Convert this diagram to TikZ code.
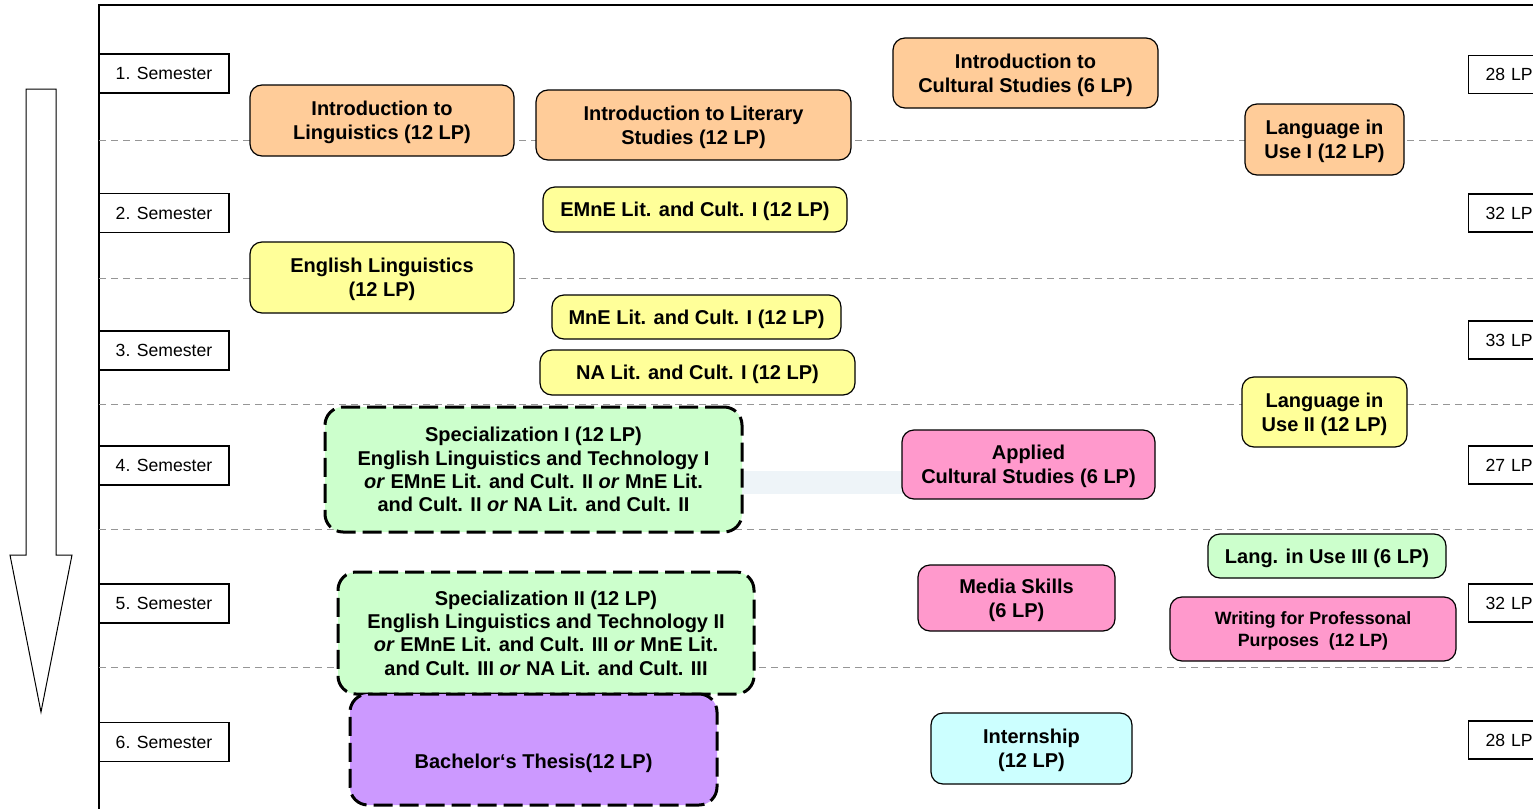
\documentclass[tikz,border=0pt]{standalone}
\usepackage{fontspec}
\setmainfont{Liberation Sans}
\definecolor{dashgray}{RGB}{150,150,150}
\definecolor{orangefill}{RGB}{255,204,153}
\definecolor{yellowfill}{RGB}{255,255,153}
\definecolor{greenfill}{RGB}{204,255,204}
\definecolor{pinkfill}{RGB}{255,153,204}
\definecolor{purplefill}{RGB}{204,153,255}
\definecolor{cyanfill}{RGB}{204,255,255}
\definecolor{bandfill}{RGB}{238,244,248}
\tikzset{
  sem/.style={draw, line width=0.6pt, fill=white, minimum width=65pt, minimum height=19.5pt, inner sep=0pt, font=\fontsize{8.8}{10}\selectfont},
  lpbox/.style={draw, line width=0.6pt, fill=white, anchor=west, text width=29pt, inner xsep=8.5pt, inner ysep=0pt, minimum height=19pt, align=left, font=\fontsize{8.8}{10}\selectfont},
  mod/.style={draw, line width=0.6pt, rounded corners=6pt, inner sep=0pt, align=center, text depth=-1pt, font=\bfseries\fontsize{10}{12}\selectfont},
  specbox/.style={mod, line width=1.5pt, dash pattern=on 9.5pt off 3.5pt, rounded corners=9pt, text depth=-1.5pt, font=\bfseries\fontsize{10}{11.7}\selectfont},
  sz/.style 2 args={minimum width=#1, minimum height=#2},
  sepline/.style={dashgray, line width=0.5pt, dash pattern=on 3.5pt off 2.5pt},
  band/.style={bandfill, line width=11.5pt},
  bigarrow/.style={draw, line width=0.5pt, fill=white},
}
\begin{document}
\begin{tikzpicture}[x=0.5pt,y=-0.5pt]
\useasboundingbox (0,0) rectangle (1533,809);
% frame
\draw[line width=0.75pt] (99,809) -- (99,5) -- (1540,5);
% separator lines
\foreach \yy in {140,278,404,529,667}
  \draw[sepline] (99,\yy) -- (1533,\yy);
% big arrow
\draw[bigarrow] (26,89) -- (56,89) -- (56,555) -- (72,555) -- (41,712) -- (10,555) -- (26,555) -- cycle;
% semester boxes
\node[sem] (s1) at (164,73.5) {1. Semester};
\node[sem] (s2) at (164,213) {2. Semester};
\node[sem] (s3) at (164,350.5) {3. Semester};
\node[sem] (s4) at (164,465.5) {4. Semester};
\node[sem] (s5) at (164,603.5) {5. Semester};
\node[sem] (s6) at (164,742) {6. Semester};
% LP boxes
\node[lpbox] (l1) at (1468,74.5) {28 LP};
\node[lpbox] (l2) at (1468,213) {32 LP};
\node[lpbox] (l3) at (1468,340) {33 LP};
\node[lpbox] (l4) at (1468,465) {27 LP};
\node[lpbox] (l5) at (1468,603) {32 LP};
\node[lpbox] (l6) at (1468,740) {28 LP};
% modules
\coordinate (spec1pos) at (533.5,469.5);
\coordinate (appliedpos) at (1028.5,464.5);
\node[mod, sz={132pt}{35.5pt}, fill=orangefill] (intling) at (382,120.5) {Introduction to\\Linguistics (12 LP)};
\node[mod, sz={157.5pt}{35pt}, fill=orangefill] (intlit) at (693.5,125) {Introduction to Literary\\Studies (12 LP)};
\node[mod, sz={132.5pt}{35pt}, fill=orangefill] (intcult) at (1025.5,73) {Introduction to\\Cultural Studies (6 LP)};
\node[mod, sz={79.5pt}{35.5pt}, fill=orangefill] (liu1) at (1324.5,139.5) {Language in\\Use I (12 LP)};
\node[mod, sz={152pt}{22.5pt}, fill=yellowfill] (emne1) at (695,209.5) {EMnE Lit. and Cult. I (12 LP)};
\node[mod, sz={132pt}{35.5pt}, fill=yellowfill] (englin) at (382,277.5) {English Linguistics\\(12 LP)};
\node[mod, sz={144.5pt}{22pt}, fill=yellowfill] (mne1) at (696.5,317) {MnE Lit. and Cult. I (12 LP)};
\node[mod, sz={157.5pt}{22.5pt}, fill=yellowfill] (na1) at (697.5,372.5) {NA Lit. and Cult. I (12 LP)};
\node[mod, sz={82.5pt}{35pt}, fill=yellowfill] (liu2) at (1324.5,412) {Language in\\Use II (12 LP)};
% faint connector band
\draw[band] ([yshift=-6.5pt]spec1pos) -- ([yshift=-9pt]appliedpos);
\node[specbox, sz={208.5pt}{62.5pt}, fill=greenfill] (spec1) at (spec1pos) {Specialization I (12 LP)\\English Linguistics and Technology I\\\textit{or} EMnE Lit. and Cult. II \textit{or} MnE Lit.\\and Cult. II \textit{or} NA Lit. and Cult. II};
\node[mod, sz={126.5pt}{34.5pt}, fill=pinkfill] (applied) at (appliedpos) {Applied\\Cultural Studies (6 LP)};
\node[mod, sz={119pt}{22pt}, fill=greenfill] (liu3) at (1327,556) {Lang. in Use III (6 LP)};
\node[mod, sz={98.5pt}{33pt}, fill=pinkfill] (media) at (1016.5,598) {Media Skills\\(6 LP)};
\node[mod, sz={143pt}{32pt}, fill=pinkfill, font=\bfseries\fontsize{8.9}{11}\selectfont] (writing) at (1313,629) {Writing for Professonal\\Purposes~~(12 LP)};
\node[specbox, sz={208pt}{61pt}, fill=greenfill] (spec2) at (546,633) {Specialization II (12 LP)\\English Linguistics and Technology II\\\textit{or} EMnE Lit. and Cult. III \textit{or} MnE Lit.\\and Cult. III \textit{or} NA Lit. and Cult. III};
\node[specbox, sz={183.5pt}{55.5pt}, fill=purplefill, label={[yshift=-7pt, font=\bfseries\fontsize{10}{12}\selectfont]center:Bachelor‘s Thesis(12 LP)}] (thesis) at (533.5,749.5) {};
\node[mod, sz={100.5pt}{35.5pt}, fill=cyanfill] (intern) at (1031.5,748.5) {Internship\\(12 LP)};
\end{tikzpicture}
\end{document}
